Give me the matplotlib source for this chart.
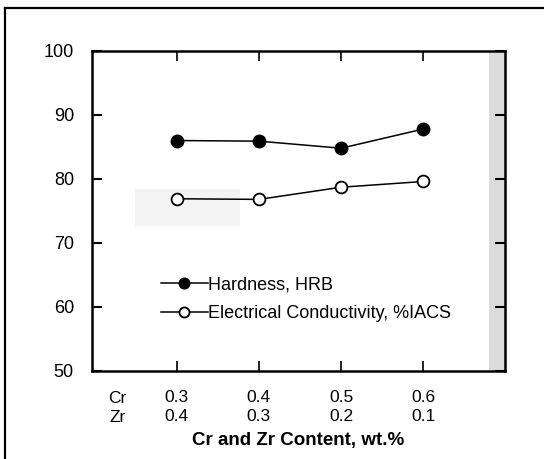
import matplotlib
matplotlib.use("Agg")
import matplotlib.pyplot as plt
from matplotlib.lines import Line2D

plt.rcParams['font.family'] = ['Liberation Sans', 'DejaVu Sans']

# Cr / Zr alloy compositions (wt.%) and measured properties
cr_content = ['0.3', '0.4', '0.5', '0.6']
zr_content = ['0.4', '0.3', '0.2', '0.1']
hardness_hrb = [86.0, 85.9, 84.8, 87.8]
conductivity_iacs = [76.9, 76.8, 78.7, 79.6]

x = list(range(len(cr_content)))

fig = plt.figure(figsize=(5.44, 4.59), dpi=100)
ax = fig.add_axes([0.169, 0.192, 0.759, 0.697])

# stippled shading of the original print
ax.axvspan(3.80, 3.99, color='#dcdcdc', lw=0, zorder=0)
ax.axvspan(-0.51, 0.77, ymin=0.454, ymax=0.568, color='#f3f3f3', lw=0, zorder=0)

ax.plot(x, hardness_hrb, '-o', color='black', lw=1.1, ms=9,
        mfc='black', mec='black', label='Hardness, HRB', zorder=3)
ax.plot(x, conductivity_iacs, '-o', color='black', lw=1.1, ms=8.5,
        mfc='white', mec='black', mew=1.3,
        label='Electrical Conductivity, %IACS', zorder=3)

ax.set_xlim(-1.03, 3.99)
ax.set_ylim(50, 100)
ax.set_yticks([50, 60, 70, 80, 90, 100])
ax.set_xticks(x)
ax.set_xticklabels([f'{c}\n{z}' for c, z in zip(cr_content, zr_content)],
                   linespacing=1.3)

for s in ax.spines.values():
    s.set_linewidth(1.8)

ax.tick_params(axis='y', which='both', direction='in', length=7, width=1.5,
               right=True, labelsize=13, pad=13)
ax.tick_params(axis='x', which='both', direction='in', length=7, width=1.2,
               top=True, labelsize=12.5, pad=14)

ax.text(-0.72, -0.064, 'Cr\nZr', transform=ax.get_xaxis_transform(),
        ha='center', va='top', fontsize=12.5, linespacing=1.3)

ax.set_xlabel('Cr and Zr Content, wt.%', fontsize=13.5, fontweight='bold',
              labelpad=6)

leg = ax.legend(loc='upper left', bbox_to_anchor=(0.296, 0.398),
                bbox_transform=fig.transFigure, frameon=False, fontsize=13,
                handlelength=2.6, handletextpad=0.0, borderpad=0,
                labelspacing=0.66, borderaxespad=0, markerscale=0.85)

# outer page frame
fig.add_artist(Line2D([0.009, 0.009], [0.0, 0.982], color='black', lw=1.6))
fig.add_artist(Line2D([0.009, 1.0], [0.982, 0.982], color='black', lw=1.6))

fig.savefig('out.png', dpi=100)
